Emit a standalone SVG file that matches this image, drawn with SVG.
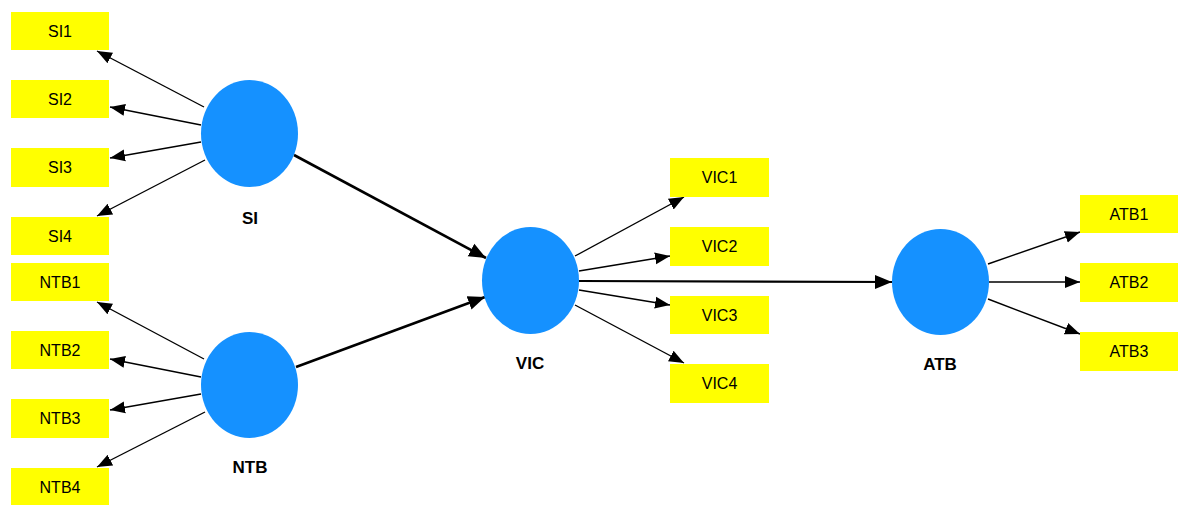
<svg xmlns="http://www.w3.org/2000/svg" width="1179" height="505" viewBox="0 0 1179 505">
  <style>
    .ind rect { fill: #FFFF00; }
    .ind text { font-family: "Liberation Sans", Arial, sans-serif; font-size: 16px; fill: #000; text-anchor: middle; dominant-baseline: central; }
    .lat ellipse { fill: #1591FF; }
    .lat text { font-family: "Liberation Sans", Arial, sans-serif; font-size: 17px; font-weight: bold; fill: #000; text-anchor: middle; dominant-baseline: central; }
    .thin { stroke: #000; stroke-width: 1.4; fill: none; marker-end: url(#head); }
    .thick { stroke: #000; stroke-width: 2.6; fill: none; marker-end: url(#headL); }
  </style>
  <defs>
    <marker id="head" markerUnits="userSpaceOnUse" markerWidth="16" markerHeight="14" viewBox="0 0 16 14" refX="15" refY="7" orient="auto">
      <path d="M0,1 L15,7 L0,13 Z" fill="#000"/>
    </marker>
    <marker id="headL" markerUnits="userSpaceOnUse" markerWidth="18" markerHeight="16" viewBox="0 0 18 16" refX="17" refY="8" orient="auto">
      <path d="M0,1 L17,8 L0,15 Z" fill="#000"/>
    </marker>
  </defs>
  <rect width="1179" height="505" fill="#fff"/>

  <g id="connectors">
    <!-- SI loadings -->
    <line class="thin" x1="204" y1="107" x2="97" y2="51"/>
    <line class="thin" x1="201" y1="125" x2="110" y2="107"/>
    <line class="thin" x1="201" y1="142" x2="110" y2="158"/>
    <line class="thin" x1="205" y1="160" x2="97" y2="216"/>
    <!-- NTB loadings -->
    <line class="thin" x1="204" y1="359" x2="97" y2="302"/>
    <line class="thin" x1="201" y1="377" x2="110" y2="359"/>
    <line class="thin" x1="201" y1="394" x2="110" y2="410"/>
    <line class="thin" x1="205" y1="412" x2="97" y2="467"/>
    <!-- structural paths -->
    <line class="thick" x1="294" y1="155" x2="486" y2="258"/>
    <line class="thick" x1="296" y1="367" x2="485" y2="297"/>
    <line class="thick" x1="579" y1="281" x2="892" y2="282" style="stroke-width:2.2"/>
    <!-- VIC loadings -->
    <line class="thin" x1="575" y1="256" x2="684" y2="197"/>
    <line class="thin" x1="579" y1="271" x2="670" y2="256"/>
    <line class="thin" x1="579" y1="290" x2="670" y2="305"/>
    <line class="thin" x1="575" y1="305" x2="684" y2="363"/>
    <!-- ATB loadings -->
    <line class="thin" x1="988" y1="264" x2="1080" y2="232"/>
    <line class="thin" x1="989" y1="282" x2="1080" y2="282"/>
    <line class="thin" x1="988" y1="299" x2="1080" y2="334"/>
  </g>

  <!-- latent variables -->
  <g id="SI" class="lat"><ellipse cx="249.5" cy="133.5" rx="48.5" ry="53.5"/><text x="250" y="218">SI</text></g>
  <g id="NTB" class="lat"><ellipse cx="249.5" cy="385" rx="48.5" ry="53"/><text x="250" y="467">NTB</text></g>
  <g id="VIC" class="lat"><ellipse cx="530.5" cy="280.5" rx="48.5" ry="53.5"/><text x="530" y="363">VIC</text></g>
  <g id="ATB" class="lat"><ellipse cx="940.5" cy="282" rx="48.5" ry="53"/><text x="940" y="364">ATB</text></g>

  <!-- indicators -->
  <g id="SI1" class="ind"><rect x="11" y="12" width="98" height="38"/><text x="60" y="31">SI1</text></g>
  <g id="SI2" class="ind"><rect x="11" y="80" width="98" height="38"/><text x="60" y="99">SI2</text></g>
  <g id="SI3" class="ind"><rect x="11" y="148" width="98" height="39"/><text x="60" y="167.5">SI3</text></g>
  <g id="SI4" class="ind"><rect x="11" y="217" width="98" height="38"/><text x="60" y="236">SI4</text></g>

  <g id="NTB1" class="ind"><rect x="11" y="263" width="98" height="38"/><text x="60" y="282">NTB1</text></g>
  <g id="NTB2" class="ind"><rect x="11" y="331" width="98" height="38"/><text x="60" y="350">NTB2</text></g>
  <g id="NTB3" class="ind"><rect x="11" y="399" width="98" height="39"/><text x="60" y="418.5">NTB3</text></g>
  <g id="NTB4" class="ind"><rect x="11" y="468" width="98" height="37"/><text x="60" y="487">NTB4</text></g>

  <g id="VIC1" class="ind"><rect x="670" y="158" width="99" height="39"/><text x="719.5" y="177.5">VIC1</text></g>
  <g id="VIC2" class="ind"><rect x="670" y="227" width="99" height="39"/><text x="719.5" y="246.5">VIC2</text></g>
  <g id="VIC3" class="ind"><rect x="670" y="296" width="99" height="38"/><text x="719.5" y="315">VIC3</text></g>
  <g id="VIC4" class="ind"><rect x="670" y="364" width="99" height="39"/><text x="719.5" y="383.5">VIC4</text></g>

  <g id="ATB1" class="ind"><rect x="1080" y="195" width="98" height="38"/><text x="1129" y="214">ATB1</text></g>
  <g id="ATB2" class="ind"><rect x="1080" y="263" width="98" height="39"/><text x="1129" y="282.5">ATB2</text></g>
  <g id="ATB3" class="ind"><rect x="1080" y="332" width="98" height="39"/><text x="1129" y="351.5">ATB3</text></g>
</svg>
